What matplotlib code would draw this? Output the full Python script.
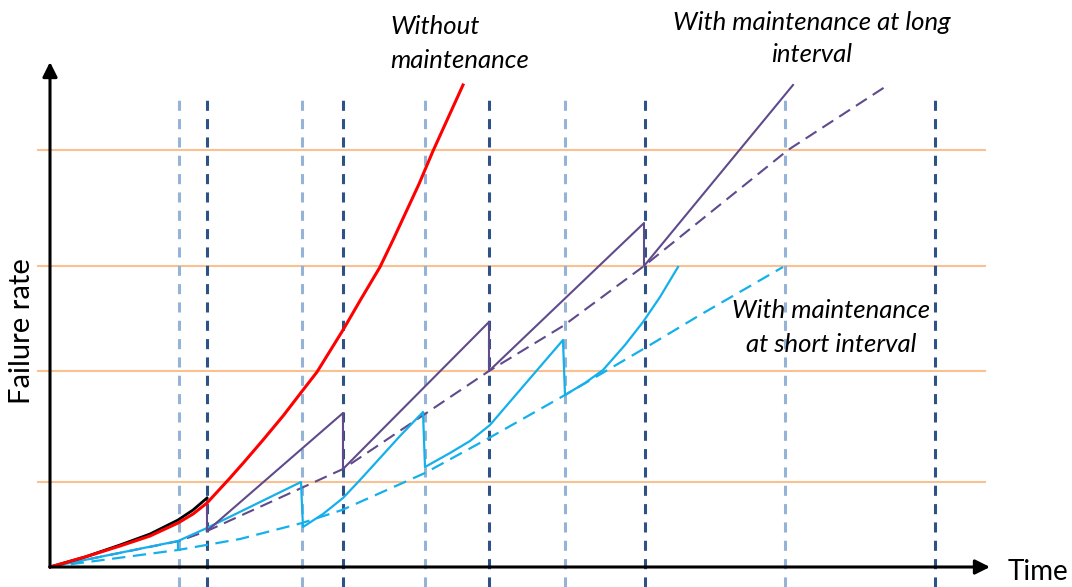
import numpy as np
import matplotlib
matplotlib.use("Agg")
import matplotlib.pyplot as plt

# failure rate vs time, units roughly in picture pixels from the origin
short_checks = [129, 252, 375, 515, 735]
long_checks = [157, 293, 439, 595, 885]
rate_levels = [85, 196, 301, 417]

no_maint_t = [0, 35, 70, 100, 128, 143, 157, 180, 195, 213, 233, 253, 267, 293, 311, 330,
              343, 356, 369, 383, 398, 413]
no_maint_r = [0, 10, 21, 31, 44, 53, 64, 89, 106, 127, 151, 177, 195, 237, 268, 300,
              327, 355, 383, 416, 449, 482]

early_t = [0, 35, 70, 100, 128, 143, 157]
early_r = [0, 10, 22, 33, 47, 57, 69]

long_t = [157, 157, 293, 293, 439, 439, 594, 594, 743]
long_r = [69, 36, 154, 98, 245, 196, 344, 301, 482]

long_env_t = [0, 129, 157, 293, 439, 513, 594, 738, 838]
long_env_r = [0, 26, 36, 98, 196, 241, 301, 417, 482]

short_ramps_t = [
    [0, 128, 128],
    [128, 157, 251, 253, 273, 293, 310, 330, 350, 373, 375, 400, 420, 440, 470, 513,
     515, 535, 553, 575, 593, 610, 628],
]
short_ramps_r = [
    [0, 26, 18],
    [26, 39, 85, 40, 53, 69, 87, 109, 131, 155, 100, 114, 126, 142, 177, 227,
     172, 184, 197, 222, 245, 270, 300],
]

short_env_t = [0, 128, 190, 252, 292, 375, 439, 515, 595, 650, 733]
short_env_r = [0, 17, 28, 44, 57, 94, 129, 172, 219, 252, 300]

c_red = "#FF0000"
c_purple = "#5F4B8B"
c_cyan = "#14B0EC"
c_light = "#95B3D7"
c_dark = "#2F5286"
c_orange = "#FAC090"

fig = plt.figure(figsize=(10.72, 5.87), dpi=100)
ax = fig.add_axes([0, 0, 1, 1])
ax.set_xlim(-50, 1022)
ax.set_ylim(-20, 567)
ax.axis("off")

for r in rate_levels:
    ax.plot([-12, 935], [r, r], color=c_orange, lw=1.5, zorder=1)

for t in short_checks:
    ax.plot([t, t], [-20, 469], color=c_light, lw=2.2, dashes=(3.3, 2.7), zorder=2)
for t in long_checks:
    ax.plot([t, t], [-20, 469], color=c_dark, lw=2.2, dashes=(3.3, 2.7), zorder=2)

ax.plot(short_env_t, short_env_r, color=c_cyan, lw=1.6, dashes=(6, 3.4), zorder=3)
for tt, rr in zip(short_ramps_t, short_ramps_r):
    ax.plot(tt, rr, color=c_cyan, lw=1.6, zorder=4)

ax.plot(long_env_t, long_env_r, color=c_purple, lw=1.5, dashes=(6.2, 3.4), zorder=3)
ax.plot(long_t, long_r, color=c_purple, lw=1.5, zorder=4)

ax.plot(early_t, early_r, color="black", lw=2.0, zorder=5)
ax.plot(no_maint_t, no_maint_r, color=c_red, lw=2.2, zorder=5)

# axes with arrow heads
arrow = dict(arrowstyle="-|>", lw=2.2, color="black", mutation_scale=22, shrinkA=0, shrinkB=0)
ax.annotate("", xy=(940, 0), xytext=(0, 0), arrowprops=arrow, zorder=6)
ax.annotate("", xy=(0, 505), xytext=(0, 0), arrowprops=arrow, zorder=6)

font = ["Lato", "DejaVu Sans"]
ax.text(-28, 236, "Failure rate", rotation=90, ha="center", va="center",
        fontsize=21, family=font)
ax.text(988, -5, "Time", ha="center", va="center", fontsize=20, family=font)

ax.text(340, 541, "Without", ha="left", va="center", fontsize=18.5, style="italic", family=font)
ax.text(340, 507, "maintenance", ha="left", va="center", fontsize=18.5, style="italic", family=font)
ax.text(762, 544, "With maintenance at long", ha="center", va="center",
        fontsize=18.5, style="italic", family=font)
ax.text(762, 512, "interval", ha="center", va="center", fontsize=18.5, style="italic", family=font)
ax.text(781, 256, "With maintenance", ha="center", va="center",
        fontsize=18.5, style="italic", family=font)
ax.text(781, 222, "at short interval", ha="center", va="center",
        fontsize=18.5, style="italic", family=font)

fig.savefig("out.png", dpi=100)
